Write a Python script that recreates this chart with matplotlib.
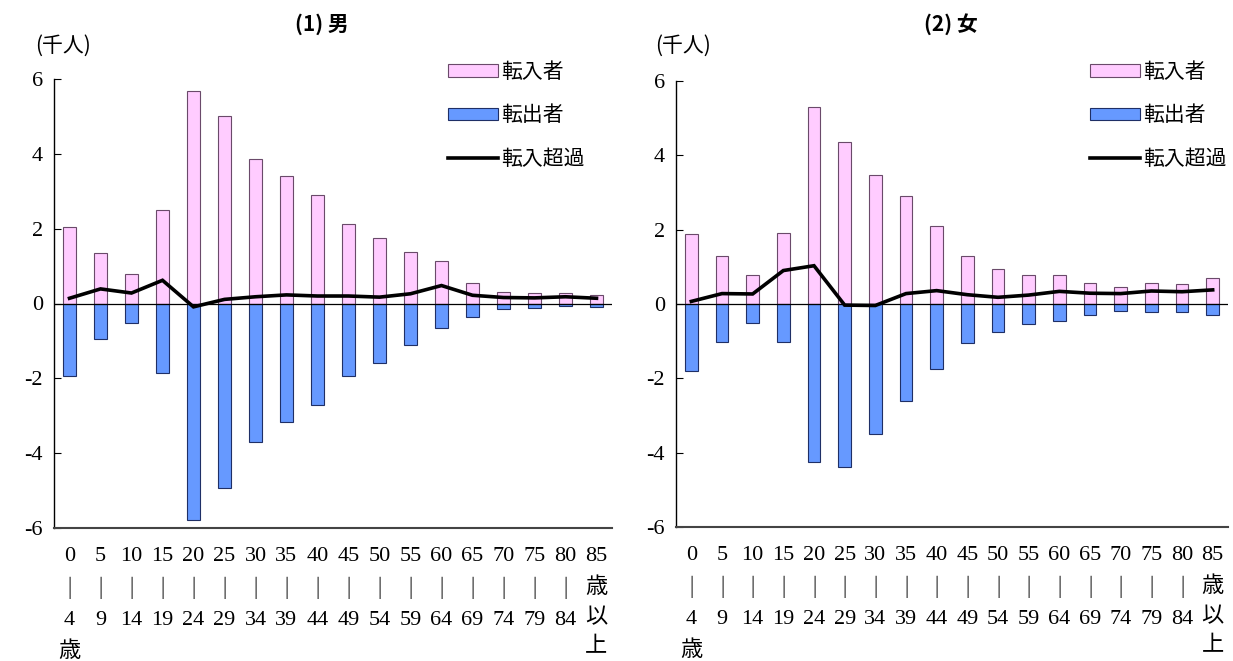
import numpy as np
import matplotlib.pyplot as plt
from matplotlib.patches import Patch
from matplotlib.lines import Line2D

plt.rcParams['font.family'] = ['Liberation Serif', 'Noto Sans CJK JP', 'DejaVu Sans']
plt.rcParams['axes.unicode_minus'] = False

# age groups (x tick labels)
ages = ['0\n｜\n4\n歳', '5\n｜\n9', '10\n｜\n14', '15\n｜\n19', '20\n｜\n24', '25\n｜\n29',
        '30\n｜\n34', '35\n｜\n39', '40\n｜\n44', '45\n｜\n49', '50\n｜\n54', '55\n｜\n59',
        '60\n｜\n64', '65\n｜\n69', '70\n｜\n74', '75\n｜\n79', '80\n｜\n84', '85\n歳\n以\n上']

# (1) male, thousand persons
male_in = [2.05, 1.34, 0.78, 2.49, 5.69, 5.02, 3.87, 3.40, 2.89, 2.13, 1.75, 1.37, 1.14, 0.55, 0.31, 0.27, 0.27, 0.24]
male_out = [-1.93, -0.96, -0.51, -1.87, -5.79, -4.92, -3.69, -3.18, -2.71, -1.95, -1.59, -1.12, -0.66, -0.35, -0.16, -0.13, -0.08, -0.10]
male_net = [0.14, 0.39, 0.28, 0.62, -0.09, 0.11, 0.18, 0.23, 0.20, 0.20, 0.17, 0.26, 0.48, 0.22, 0.16, 0.15, 0.18, 0.14]

# (2) female
female_in = [1.88, 1.30, 0.79, 1.90, 5.29, 4.35, 3.46, 2.90, 2.11, 1.30, 0.94, 0.77, 0.79, 0.57, 0.46, 0.57, 0.54, 0.70]
female_out = [-1.81, -1.01, -0.52, -1.01, -4.26, -4.38, -3.50, -2.62, -1.75, -1.06, -0.76, -0.53, -0.45, -0.29, -0.20, -0.22, -0.22, -0.30]
female_net = [0.07, 0.28, 0.27, 0.90, 1.03, -0.03, -0.04, 0.28, 0.36, 0.25, 0.18, 0.24, 0.34, 0.29, 0.28, 0.35, 0.33, 0.38]

pink = '#ffccff'
blue = '#6699ff'

W, H = 1233, 661
fig = plt.figure(figsize=(W / 100, H / 100), dpi=100)


def px(x0, y0, x1, y1):
    # pixel box -> figure fraction [left, bottom, width, height]
    return [x0 / W, 1 - y1 / H, (x1 - x0) / W, (y1 - y0) / H]


def draw(ax, vin, vout, vnet):
    x = np.arange(len(ages))
    ax.bar(x, vin, width=0.42, color=pink, edgecolor='#6a4a6a', linewidth=0.8, zorder=2)
    ax.bar(x, vout, width=0.42, color=blue, edgecolor='#1f2f66', linewidth=0.8, zorder=2)
    ax.axhline(0, color='black', linewidth=0.9, zorder=3)
    ax.plot(x, vnet, color='black', linewidth=2.6, zorder=4, solid_joinstyle='miter')
    ax.set_xlim(-0.5, len(ages) - 0.5)
    ax.set_ylim(-6, 6)
    ax.set_yticks([-6, -4, -2, 0, 2, 4, 6])
    ax.set_yticklabels(['-6', '-4', '-2', '0', '2', '4', '6'])
    ax.set_xticks(x)
    ax.set_xticklabels(ages, linespacing=1.72)
    ax.tick_params(axis='x', length=0, pad=14, labelsize=16)
    ax.tick_params(axis='y', direction='in', length=5, pad=8, labelsize=16)
    for s in ['top', 'right']:
        ax.spines[s].set_visible(False)
    ax.spines['bottom'].set_color('#444444')
    ax.spines['bottom'].set_linewidth(1.5)
    ax.spines['left'].set_linewidth(1.0)


ax1 = fig.add_axes(px(54, 79, 612, 528))
draw(ax1, male_in, male_out, male_net)
ax2 = fig.add_axes(px(676, 81, 1228, 527))
draw(ax2, female_in, female_out, female_net)

handles = [Patch(facecolor=pink, edgecolor='#6a4a6a', linewidth=0.8),
           Patch(facecolor=blue, edgecolor='#1f2f66', linewidth=0.8),
           Line2D([0], [0], color='black', linewidth=2.6)]
labels = ['転入者', '転出者', '転入超過']
for lx in (448, 1090):
    fig.legend(handles, labels, loc='upper left', bbox_to_anchor=(lx / W, 1 - 61 / H),
               frameon=False, borderpad=0, borderaxespad=0, handlelength=2.4, handleheight=0.55,
               handletextpad=0.15, labelspacing=1.03, prop={'family': 'Noto Sans CJK JP', 'size': 15})

fig.text(322 / W, 1 - 24 / H, '(1) 男', ha='center', va='center', fontsize=15,
         family=['Noto Sans CJK JP'], weight='bold')
fig.text(951 / W, 1 - 24 / H, '(2) 女', ha='center', va='center', fontsize=15,
         family=['Noto Sans CJK JP'], weight='bold')
fig.text(35 / W, 1 - 46 / H, '(千人)', ha='left', va='center', fontsize=15, family=['Noto Sans CJK JP'])
fig.text(655 / W, 1 - 46 / H, '(千人)', ha='left', va='center', fontsize=15, family=['Noto Sans CJK JP'])

fig.savefig('out.png', dpi=100)
